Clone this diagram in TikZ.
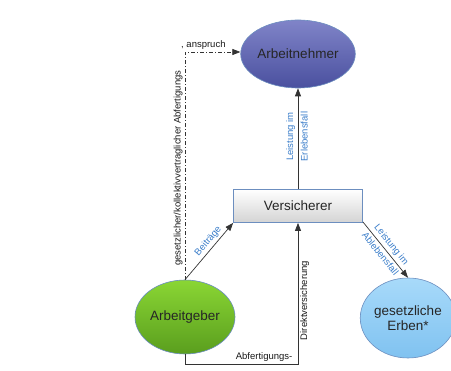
\documentclass[tikz,border=0pt]{standalone}
\usepackage{fontspec}
\setmainfont{Liberation Sans}
\usetikzlibrary{arrows.meta,shapes.geometric}
\definecolor{lblue}{HTML}{3A7DC9}
\definecolor{edgec}{HTML}{333333}
\definecolor{bordc}{HTML}{6C8EBF}
\definecolor{purA}{HTML}{8084C8}
\definecolor{purB}{HTML}{4A509F}
\definecolor{grnA}{HTML}{8AD634}
\definecolor{grnB}{HTML}{5A9E1E}
\definecolor{bluA}{HTML}{A8DAFA}
\definecolor{bluB}{HTML}{80C2F0}
\tikzset{
  ell/.style={ellipse, draw=bordc, line width=0.6pt, font=\fontsize{13.5}{15}\selectfont, text=black!85, align=center, inner sep=0pt, shading=axis, shading angle=135},
  box/.style={rectangle, draw=bordc, line width=0.8pt, font=\fontsize{13.5}{15}\selectfont, text=black!85, minimum width=129pt, minimum height=33pt, shading=axis, shading angle=160, top color=white, bottom color=black!17},
  conn/.style={draw=edgec, line width=0.7pt, -{Triangle[length=8pt,width=6pt]}},
  dd/.style={draw=edgec, line width=0.7pt, dash pattern=on 4pt off 2pt on 1pt off 2pt, -{Triangle[length=8pt,width=6pt]}},
  lbl/.style={font=\fontsize{9.5}{11}\selectfont, text=lblue, inner sep=2.5pt},
  blbl/.style={font=\fontsize{9.5}{11}\selectfont, text=black!90, inner sep=2pt},
}
\begin{document}
\begin{tikzpicture}[x=1pt,y=-1pt]
\useasboundingbox (0,0) rectangle (451,371);
\node[ell, minimum width=100pt, minimum height=68pt, top color=purA, bottom color=purB] (an) at (298,54) {Arbeitnehmer};
\node[box] (ve) at (298,206) {Versicherer};
\node[ell, minimum width=100pt, minimum height=74pt, top color=grnA, bottom color=grnB] (ag) at (185,317) {Arbeitgeber};
\node[ell, minimum width=86pt, minimum height=80pt, top color=bluA, bottom color=bluB] (er) at (408,318) {gesetzliche\\Erben*};
\coordinate (c1) at (185,364);
\coordinate (c2) at (298,364);
\coordinate (c3) at (185,52);
% Versicherer -> Arbeitnehmer
\draw[conn] (ve.north) -- node[lbl, sloped, above, pos=0.52] {Leistung im} node[lbl, sloped, below, pos=0.52] {Erlebensfall} (an.south);
% Arbeitgeber -> Versicherer (Beiträge)
\draw[conn] (ag.north) -- node[lbl, sloped, above, pos=0.6] {Beiträge} (ve.south west);
% Direktversicherung
\draw[conn] (ag.south) -- (c1) -- node[blbl, above, pos=0.7] {Abfertigungs-} (c2) -- node[blbl, rotate=90, below, pos=0.45] {Direktversicherung} (ve.south);
% Versicherer -> Erben
\draw[conn] (ve.south east) ++(0,-1) coordinate (vse) (vse) -- node[lbl, sloped, above, pos=0.5] {Leistung im} node[lbl, sloped, below, pos=0.5] {Ablebensfall} (er.north);
% dash-dot Abfertigungsanspruch
\draw[dd] (ag.north) -- node[blbl, rotate=90, above, pos=0.49] {gesetzlicher/kollektivvertraglicher Abfertigungs} (c3) -- (an.west |- c3);
\node[blbl, anchor=west] (ans) at (179,45) {, anspruch};
\end{tikzpicture}
\end{document}
